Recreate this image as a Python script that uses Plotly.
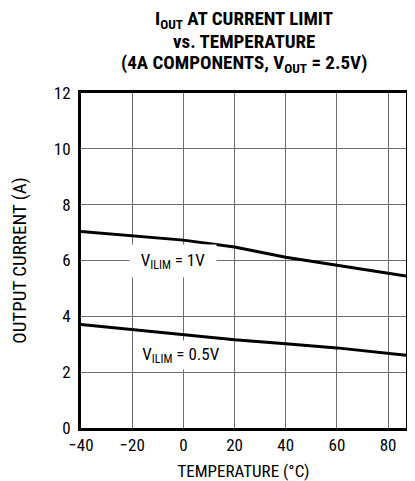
import plotly.graph_objects as go

temperature = [-40, -20, 0, 20, 40, 60, 87]
i_vilim_1v = [7.04, 6.89, 6.73, 6.48, 6.12, 5.83, 5.44]
i_vilim_05v = [3.71, 3.52, 3.33, 3.16, 3.02, 2.87, 2.61]
x_ticks = [-40, -20, 0, 20, 40, 60, 80]
y_ticks = [0, 2, 4, 6, 8, 10, 12]
title_lines = ["I<sub>OUT</sub> AT CURRENT LIMIT", "vs. TEMPERATURE",
               "(4A COMPONENTS, V<sub>OUT</sub> = 2.5V)"]

FONT = "Liberation Sans Narrow, Roboto Condensed, Arial Narrow, Roboto, sans-serif"

fig = go.Figure()
for ys in (i_vilim_1v, i_vilim_05v):
    fig.add_trace(go.Scatter(x=temperature, y=ys, mode="lines",
                             line=dict(color="black", width=3), showlegend=False,
                             hoverinfo="skip"))

fig.add_annotation(x=-4, y=6, text="V<sub>ILIM</sub> = 1V", showarrow=False,
                   bgcolor="white", width=84, height=30,
                   font=dict(size=17, color="black", family=FONT))
fig.add_annotation(x=-1, y=2.6, text="V<sub>ILIM</sub> = 0.5V", showarrow=False,
                   bgcolor="white", width=84, height=26,
                   font=dict(size=17, color="black", family=FONT))

for i, line in enumerate(title_lines):
    fig.add_annotation(x=0.5, y=1.0, xref="paper", yref="paper", xanchor="center",
                       yanchor="middle", yshift=74 - 22 * i, text="<b>" + line + "</b>",
                       showarrow=False, font=dict(size=19, color="black", family=FONT))

fig.update_xaxes(range=[-40, 87], tickmode="array", tickvals=x_ticks, showgrid=True,
                 gridcolor="#6e6e6e", gridwidth=1, showline=True, linecolor="black",
                 linewidth=3, mirror="all", ticks="", zeroline=False, automargin=False,
                 ticklabelstandoff=0,
                 tickfont=dict(size=17, color="black", family=FONT),
                 title=dict(text="TEMPERATURE (°C)", standoff=16,
                            font=dict(size=17, color="black", family=FONT)))
fig.update_yaxes(range=[0, 12], tickmode="array", tickvals=y_ticks, showgrid=True,
                 gridcolor="#6e6e6e", gridwidth=1, showline=True, linecolor="black",
                 linewidth=3, mirror="all", ticks="", zeroline=False, automargin=False,
                 ticklabelstandoff=4,
                 tickfont=dict(size=17, color="black", family=FONT),
                 title=dict(text="OUTPUT CURRENT (A)", standoff=33,
                            font=dict(size=19, color="black", family=FONT)))

fig.update_layout(template="simple_white", width=407, height=473,
                  margin=dict(l=73, r=9, t=85, b=53),
                  plot_bgcolor="white", paper_bgcolor="white")
fig.write_html("out.html")
